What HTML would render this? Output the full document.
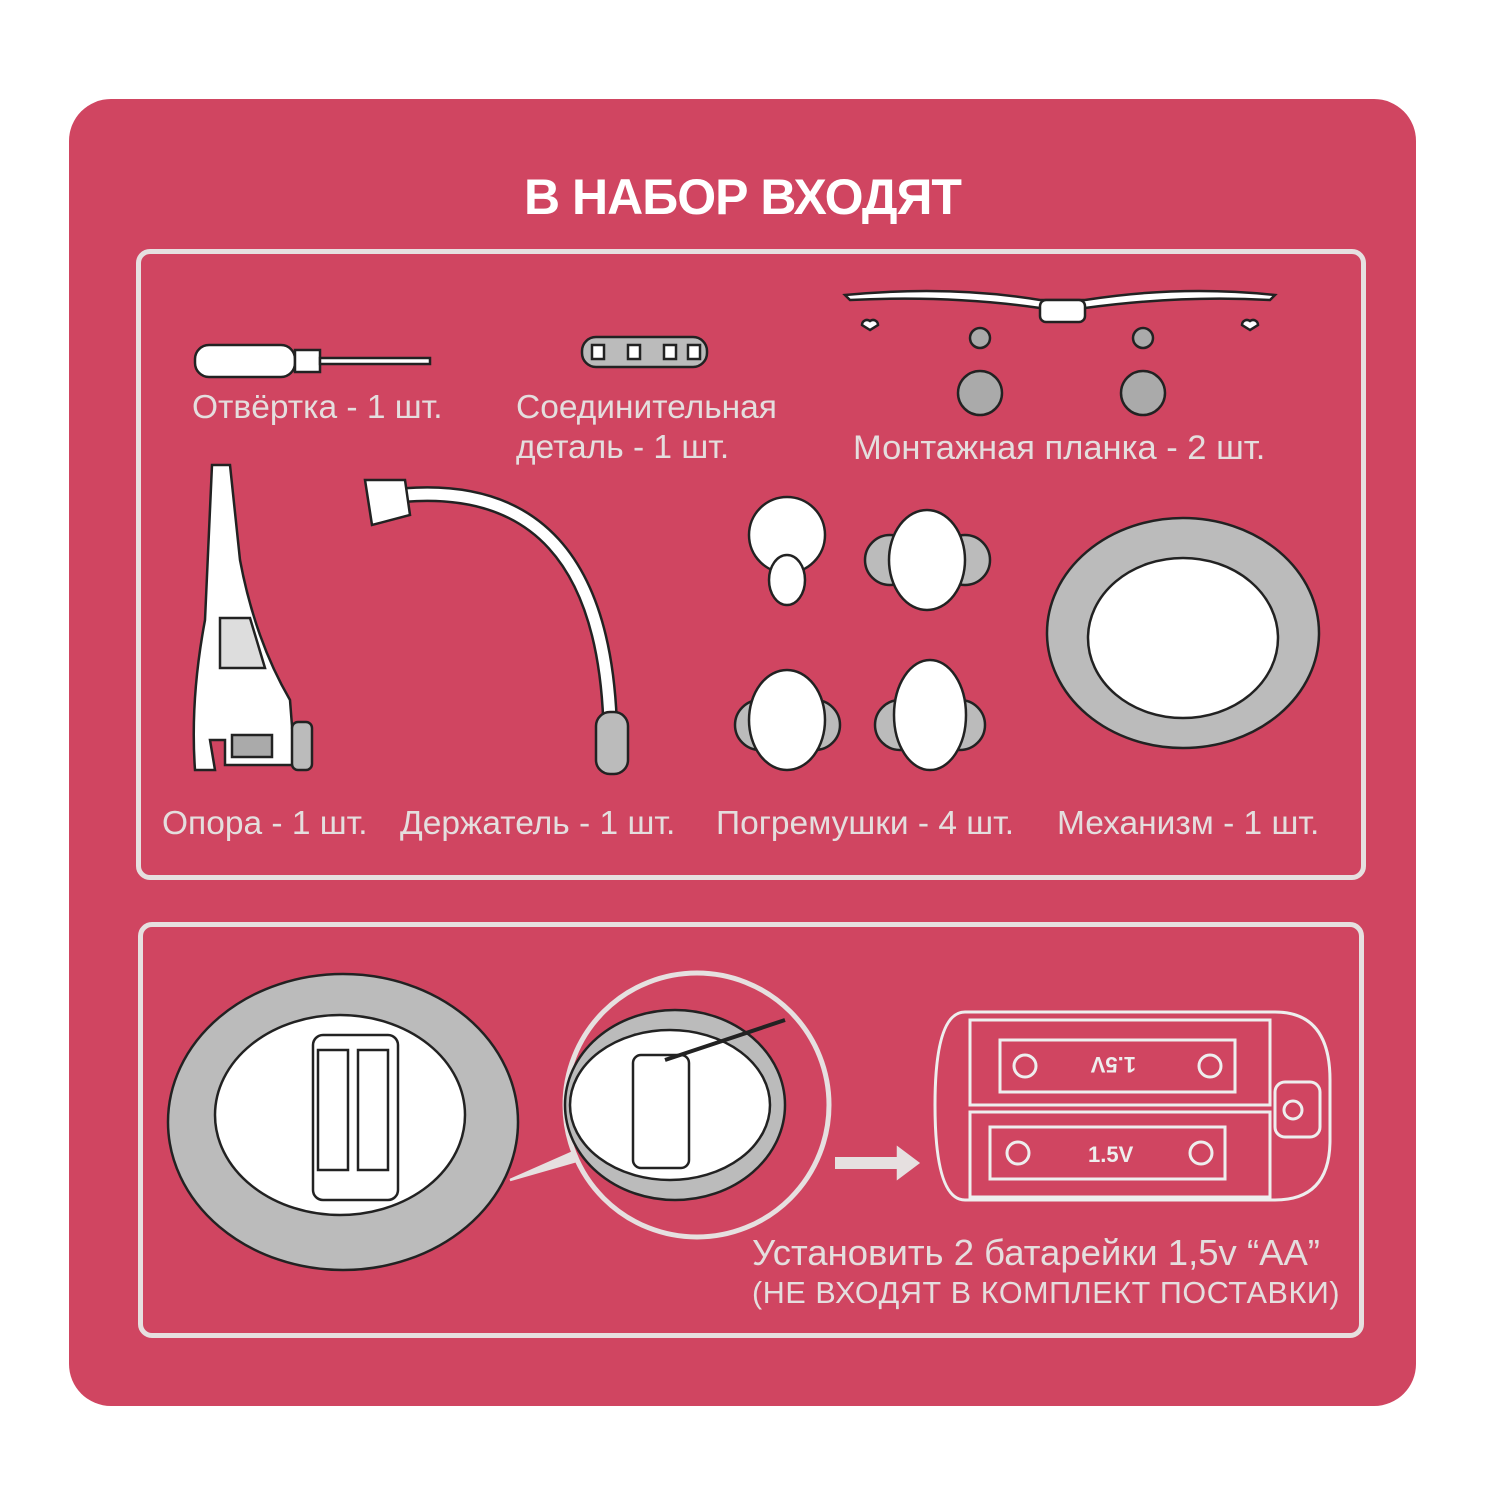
<!DOCTYPE html>
<html><head><meta charset="utf-8"><style>
body{margin:0;width:1500px;height:1500px;background:#fff;position:relative;overflow:hidden;font-family:"Liberation Sans","DejaVu Sans",sans-serif}
.card{position:absolute;left:69px;top:99px;width:1347px;height:1307px;background:#d04561;border-radius:42px}
.box{position:absolute;border:5px solid #e6e0e0;border-radius:14px;box-sizing:border-box}
.t{position:absolute;color:#e4dede;font-size:33.5px;white-space:nowrap;line-height:1}
h1{position:absolute;left:0;width:1485px;top:168px;margin:0;text-align:center;color:#fff;font-size:50px;font-weight:bold;letter-spacing:-1px}
svg{position:absolute;left:0;top:0}
</style></head><body>
<div class="card"></div>
<h1>В НАБОР ВХОДЯТ</h1>
<div class="box" style="left:136px;top:249px;width:1230px;height:631px"></div>
<div class="box" style="left:138px;top:922px;width:1226px;height:416px"></div>
<div class="t" style="left:192px;top:391px">Отвёртка - 1 шт.</div>
<div class="t" style="left:516px;top:391px">Соединительная</div>
<div class="t" style="left:516px;top:431px">деталь - 1 шт.</div>
<div class="t" style="left:853px;top:431px;font-size:34.5px">Монтажная планка - 2 шт.</div>
<div class="t" style="left:162px;top:807px">Опора - 1 шт.</div>
<div class="t" style="left:400px;top:807px">Держатель - 1 шт.</div>
<div class="t" style="left:716px;top:807px">Погремушки - 4 шт.</div>
<div class="t" style="left:1057px;top:807px">Механизм - 1 шт.</div>
<div class="t" style="left:752px;top:1235px;font-size:36.5px">Установить 2 батарейки 1,5v “АА”</div>
<div class="t" style="left:752px;top:1278px;font-size:30.5px;letter-spacing:0.6px">(НЕ ВХОДЯТ В КОМПЛЕКТ ПОСТАВКИ)</div>
<svg width="1500" height="1500" stroke="#222" stroke-width="2.5" fill="#fff">
<rect x="195" y="345" width="100" height="32" rx="14"/>
<rect x="295" y="350" width="25" height="22"/>
<rect x="320" y="358" width="110" height="6"/>
<rect x="582" y="337" width="125" height="30" rx="14" fill="#bbb"/>
<g fill="#fff"><rect x="592" y="345" width="12" height="14"/><rect x="628" y="345" width="12" height="14"/><rect x="664" y="345" width="12" height="14"/><rect x="688" y="345" width="12" height="14"/></g>
<path d="M845 295 Q950 285 1040 300 L1085 300 Q1180 285 1275 295 L1270 300 Q1180 295 1085 308 L1040 308 Q950 295 850 300Z"/>
<rect x="1040" y="300" width="45" height="22" rx="6"/>
<g fill="#aaa"><circle cx="980" cy="393" r="22"/><circle cx="1143" cy="393" r="22"/><circle cx="980" cy="338" r="10"/><circle cx="1143" cy="338" r="10"/></g>
<path d="M870 330 l-8 -5 a5 5 0 0 1 8 -4 a5 5 0 0 1 8 4z M1250 330 l-8 -5 a5 5 0 0 1 8 -4 a5 5 0 0 1 8 4z" fill="#fff"/>
<path d="M212 465 L230 465 L240 560 Q255 640 290 700 L295 765 L225 765 L225 740 L210 740 L215 770 L195 770 Q190 700 205 620 Z"/>
<path d="M220 618 L250 618 L265 668 L220 668Z" fill="#ddd"/>
<rect x="232" y="735" width="40" height="22" fill="#aaa"/>
<rect x="292" y="722" width="20" height="48" rx="6" fill="#bbb"/>
<path d="M405 495 Q600 480 610 720" fill="none" stroke-width="16" stroke="#222"/>
<path d="M405 495 Q600 480 610 720" fill="none" stroke-width="11" stroke="#fff"/>
<path d="M365 480 L405 480 L410 515 L372 525Z"/>
<rect x="596" y="712" width="32" height="62" rx="14" fill="#bbb"/>
<g fill="#bbb"><ellipse cx="890" cy="560" rx="25" ry="25"/><ellipse cx="965" cy="560" rx="25" ry="25"/><ellipse cx="760" cy="725" rx="25" ry="25"/><ellipse cx="815" cy="725" rx="25" ry="25"/><ellipse cx="900" cy="725" rx="25" ry="25"/><ellipse cx="960" cy="725" rx="25" ry="25"/></g>
<circle cx="787" cy="535" r="38"/><ellipse cx="787" cy="580" rx="18" ry="25"/>
<ellipse cx="927" cy="560" rx="38" ry="50"/><ellipse cx="787" cy="720" rx="38" ry="50"/><ellipse cx="930" cy="715" rx="36" ry="55"/>
<ellipse cx="1183" cy="633" rx="136" ry="115" fill="#bbb"/>
<ellipse cx="1183" cy="638" rx="95" ry="80"/>
<ellipse cx="343" cy="1122" rx="175" ry="148" fill="#bbb"/>
<ellipse cx="340" cy="1115" rx="125" ry="100"/>
<rect x="313" y="1035" width="85" height="165" rx="10"/>
<rect x="318" y="1050" width="30" height="120" fill="#fff"/><rect x="358" y="1050" width="30" height="120"/>
<path d="M510 1180 L580 1160 L578 1150Z" fill="#e6e0e0" stroke="#e6e0e0"/>
<circle cx="697" cy="1105" r="132" fill="#d04561" stroke="#e6e0e0" stroke-width="5"/>
<ellipse cx="675" cy="1105" rx="110" ry="95" fill="#bbb"/>
<ellipse cx="670" cy="1105" rx="100" ry="75"/>
<rect x="633" y="1055" width="56" height="113" rx="8"/>
<line x1="665" y1="1060" x2="785" y2="1020" stroke-width="4"/>
<path d="M835 1163 L900 1163" stroke="#e6e0e0" stroke-width="12"/><path d="M898 1148 L918 1163 L898 1178Z" fill="#e6e0e0" stroke="#e6e0e0"/>
<path d="M965 1012 L1275 1012 Q1330 1012 1330 1080 L1330 1140 Q1330 1200 1275 1200 L965 1200 Q935 1200 935 1105 Q935 1012 965 1012Z" fill="#d04561" stroke="#eee" stroke-width="3"/>
<rect x="970" y="1020" width="300" height="85" fill="none" stroke="#eee" stroke-width="3"/>
<rect x="970" y="1112" width="300" height="85" fill="none" stroke="#eee" stroke-width="3"/>
<rect x="1000" y="1040" width="235" height="52" fill="none" stroke="#eee" stroke-width="3"/>
<rect x="990" y="1127" width="235" height="52" fill="none" stroke="#eee" stroke-width="3"/>
<rect x="1275" y="1082" width="45" height="55" rx="10" fill="none" stroke="#eee" stroke-width="3"/>
<circle cx="1293" cy="1110" r="9" fill="none" stroke="#eee" stroke-width="3"/>
<g fill="none" stroke="#eee" stroke-width="3"><circle cx="1025" cy="1066" r="11"/><circle cx="1210" cy="1066" r="11"/><circle cx="1018" cy="1153" r="11"/><circle cx="1201" cy="1153" r="11"/></g>
<g fill="#eee" stroke="none" font-family="Liberation Sans" font-weight="bold" font-size="22">
<text x="1088" y="1162">1.5V</text>
<text x="1088" y="1075" transform="rotate(180 1112 1066)">1.5V</text>
</g>
</svg>
</body></html>
